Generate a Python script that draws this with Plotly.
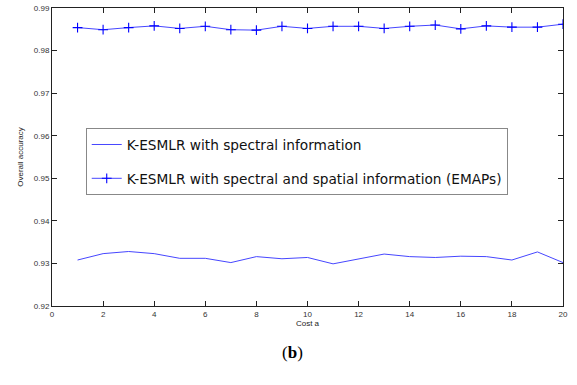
import plotly.graph_objects as go

cost = list(range(1, 21))
spectral = [0.9308, 0.9323, 0.9328, 0.9323, 0.9312, 0.9312, 0.9302, 0.9316, 0.9311, 0.9314,
            0.9299, 0.9310, 0.9322, 0.9316, 0.9314, 0.9317, 0.9316, 0.9308, 0.9327, 0.9302]
spatial = [0.9854, 0.9849, 0.9854, 0.9858, 0.9852, 0.9857, 0.9849, 0.9848, 0.9857, 0.9852,
           0.9857, 0.9857, 0.9852, 0.9857, 0.9860, 0.9851, 0.9858, 0.9855, 0.9855, 0.9862]
names = ["K-ESMLR with spectral information",
         "K-ESMLR with spectral and spatial information (EMAPs)"]

fig = go.Figure()
fig.add_trace(go.Scatter(x=cost, y=spectral, mode="lines", name=names[0],
                         line=dict(color="rgb(70,70,255)", width=1), legendgroup="a"))
fig.add_trace(go.Scatter(x=cost, y=spatial, mode="lines+markers", name=names[1],
                         line=dict(color="rgb(70,70,255)", width=1),
                         marker=dict(symbol="cross-thin", size=7, color="blue",
                                     line=dict(color="blue", width=1.1)),
                         legendgroup="b"))

axis_common = dict(showline=True, linecolor="#222", linewidth=1, mirror="ticks",
                   ticks="inside", ticklen=5, tickcolor="#222", showgrid=False,
                   zeroline=False, automargin=False,
                   tickfont=dict(family="Arial", size=8, color="#333"))
fig.update_xaxes(range=[0, 20], tickvals=list(range(0, 21, 2)),
                 title=dict(text="Cost a", font=dict(family="Arial", size=8, color="#222"),
                            standoff=2),
                 **axis_common)
fig.update_yaxes(range=[0.92, 0.99], tickvals=[0.92, 0.93, 0.94, 0.95, 0.96, 0.97, 0.98, 0.99],
                 tickformat=".2f",
                 title=dict(text="Overall accuracy", font=dict(family="Arial", size=8, color="#222"),
                            standoff=9),
                 **axis_common)

fig.update_layout(
    width=577, height=385,
    margin=dict(l=52, r=14, t=8, b=79),
    plot_bgcolor="white", paper_bgcolor="white",
    legend=dict(x=0.066, y=0.597, xanchor="left", yanchor="top",
                bordercolor="#888", borderwidth=1, bgcolor="white",
                font=dict(family="DejaVu Sans", size=13.7, color="#111"),
                traceorder="grouped", tracegroupgap=13, itemwidth=30),
    annotations=[dict(text="(<b>b</b>)", x=0.47, y=-0.155, xref="paper", yref="paper",
                      xanchor="center", yanchor="middle", showarrow=False,
                      font=dict(family="Liberation Serif", size=17, color="black"))],
)

fig.write_html("out.html", config={"displayModeBar": False},
               post_script="document.body.style.margin='0';document.body.style.padding='0';")
